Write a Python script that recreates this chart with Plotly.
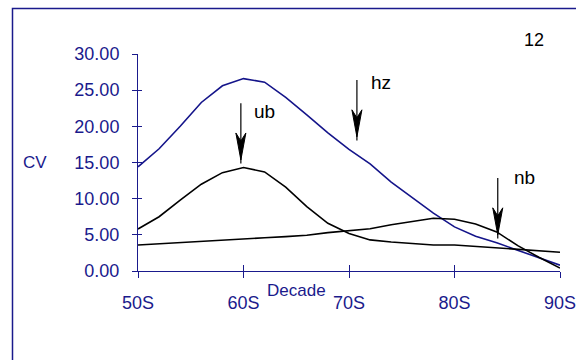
import plotly.graph_objects as go

# ---- data ----
years = [50, 52, 54, 56, 58, 60, 62, 64, 66, 68, 70, 72, 74, 76, 78, 80, 82, 84, 86, 88, 90]
hz = [14.4, 16.9, 20.0, 23.3, 25.6, 26.6, 26.1, 24.0, 21.6, 19.1, 16.8, 14.8, 12.3, 10.1, 8.0, 6.1, 4.8, 3.9, 2.9, 1.9, 0.8]
ub = [5.8, 7.5, 9.8, 12.0, 13.6, 14.3, 13.7, 11.6, 8.9, 6.6, 5.2, 4.3, 4.0, 3.8, 3.6, 3.6, 3.4, 3.2, 3.0, 2.8, 2.6]
nb = [3.6, 3.75, 3.9, 4.05, 4.2, 4.4, 4.6, 4.75, 4.95, 5.3, 5.6, 5.85, 6.4, 6.8, 7.3, 7.15, 6.5, 5.4, 3.5, 1.9, 0.4]

x_tickvals = [50, 60, 70, 80, 90]
x_ticktext = ["50S", "60S", "70S", "80S", "90S"]
y_tickvals = [0, 5, 10, 15, 20, 25, 30]

# arrow labels: (text, label x, label y, arrow x, tip y, tail y)
arrows = [
    ("ub", 62.0, 22.0, 59.75, 15.35, 23.2),
    ("hz", 73.0, 26.1, 70.75, 18.55, 26.4),
    ("nb", 86.6, 12.9, 84.1, 5.0, 12.85),
]

NAVY = "#1a1a8c"
FONT = "Liberation Sans, Arial, sans-serif"

fig = go.Figure()
fig.add_trace(go.Scatter(x=years, y=hz, mode="lines", line=dict(color="#14148a", width=1.6),
                         hoverinfo="skip"))
fig.add_trace(go.Scatter(x=years, y=ub, mode="lines", line=dict(color="black", width=1.6),
                         hoverinfo="skip"))
fig.add_trace(go.Scatter(x=years, y=nb, mode="lines", line=dict(color="black", width=1.6),
                         hoverinfo="skip", xaxis="x2", yaxis="y2"))

common_axis = dict(showgrid=False, zeroline=False, linecolor=NAVY, tickcolor=NAVY,
                   automargin=False,
                   tickfont=dict(family=FONT, size=18, color=NAVY))

fig.update_layout(
    width=576, height=360,
    margin=dict(l=138, r=16, t=54, b=89),
    paper_bgcolor="white", plot_bgcolor="white",
    showlegend=False, hovermode=False,
    xaxis=dict(range=[50, 90], tickvals=x_tickvals, ticktext=x_ticktext,
               showline=True, linewidth=1, ticks="outside", ticklen=6, tickwidth=1,
               ticklabelstandoff=9, ticklabeloverflow="allow", **common_axis),
    yaxis=dict(range=[0, 30], tickvals=y_tickvals, tickformat=".2f",
               showline=True, linewidth=1, ticks="outside", ticklen=5, tickwidth=1,
               ticklabelstandoff=9, ticklabeloverflow="allow", **common_axis),
    xaxis2=dict(overlaying="x", matches="x", range=[50, 90], tickvals=x_tickvals,
                showticklabels=False, showline=False, ticks="inside", ticklen=6,
                automargin=False,
                tickwidth=1, tickcolor=NAVY, showgrid=False, zeroline=False),
    yaxis2=dict(overlaying="y", matches="y", range=[0, 30], tickvals=y_tickvals,
                showticklabels=False, showline=False, ticks="inside", ticklen=4,
                automargin=False,
                tickwidth=1, tickcolor=NAVY, showgrid=False, zeroline=False, side="left"),
)

# outer frame
fig.add_shape(type="rect", xref="paper", yref="paper", x0=-0.2974, x1=1.3, y0=-0.9, y1=1.2097,
              line=dict(color=NAVY, width=1.5), fillcolor="rgba(0,0,0,0)", layer="above")

# arrows (shaft + narrow notched head, drawn in pixels anchored at the tip)
for text, lx, ly, ax_, tip, tail in arrows:
    fig.add_shape(type="line", xref="x", yref="y", x0=ax_, x1=ax_, y0=tail, y1=tip - 0.5,
                  line=dict(color="black", width=1.2))
    fig.add_shape(type="path", xref="x", yref="y", xsizemode="pixel", ysizemode="pixel",
                  xanchor=ax_, yanchor=tip,
                  path="M 0 0 L -5 27 L 0 19 L 5 27 Z",
                  fillcolor="black", line=dict(color="black", width=1))
    fig.add_annotation(x=lx, y=ly, xref="x", yref="y", text=text, showarrow=False,
                       font=dict(family=FONT, size=19, color="black"),
                       xanchor="center", yanchor="middle")

fig.add_annotation(x=0.9384, y=1.0645, xref="paper", yref="paper", text="12", showarrow=False,
                   xanchor="center", yanchor="middle",
                   font=dict(family=FONT, size=18, color="black"))
fig.add_annotation(x=-0.2441, y=0.4977, xref="paper", yref="paper", text="CV", showarrow=False,
                   xanchor="center", yanchor="middle",
                   font=dict(family=FONT, size=17, color=NAVY))
fig.add_annotation(x=0.3756, y=-0.0876, xref="paper", yref="paper", text="Decade", showarrow=False,
                   xanchor="center", yanchor="middle",
                   font=dict(family=FONT, size=17, color=NAVY))

fig.write_html("out.html")
